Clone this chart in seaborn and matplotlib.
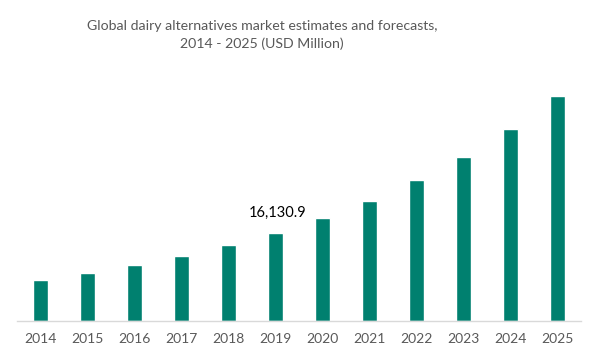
import pandas as pd
import matplotlib
matplotlib.use("Agg")
import matplotlib.pyplot as plt
import seaborn as sns

years = ['2014', '2015', '2016', '2017', '2018', '2019',
         '2020', '2021', '2022', '2023', '2024', '2025']
market_size = [7515, 8800, 10265, 11915, 13930, 16130.9,
               18880, 22000, 25850, 30060, 35200, 41250]
labelled_year = '2019'

df = pd.DataFrame({'Year': years, 'Market': market_size})

sns.set_theme(style="white")
plt.rcParams['font.family'] = ['Lato', 'DejaVu Sans']

fig = plt.figure(figsize=(5.96, 3.58), dpi=100)
ax = fig.add_axes([0.0285, 0.1034, 0.9465, 0.70])

sns.barplot(data=df, x='Year', y='Market', color='#00806F', width=0.32,
            saturation=1, ax=ax)

ax.set_xlim(-0.5, 11.5)
ax.set_ylim(0, 46000)
ax.set_xlabel('')
ax.set_ylabel('')
ax.set_yticks([])
for side in ['top', 'right', 'left']:
    ax.spines[side].set_visible(False)
ax.spines['bottom'].set_color('#D9D9D9')
ax.spines['bottom'].set_linewidth(1)
ax.tick_params(axis='x', length=0, labelsize=10, labelcolor='#595959', pad=9)

# single data label on 2019
i = years.index(labelled_year)
ax.text(i + 0.05, market_size[i] + 3700, f"{market_size[i]:,.1f}", ha='center',
        va='center', fontsize=10.5, color='black')

fig.text(0.44, 0.902, "Global dairy alternatives market estimates and forecasts,\n2014 - 2025 (USD Million)",
         ha='center', va='center', fontsize=10.2, color='#595959', linespacing=1.55)

fig.savefig('out.png', dpi=100)
